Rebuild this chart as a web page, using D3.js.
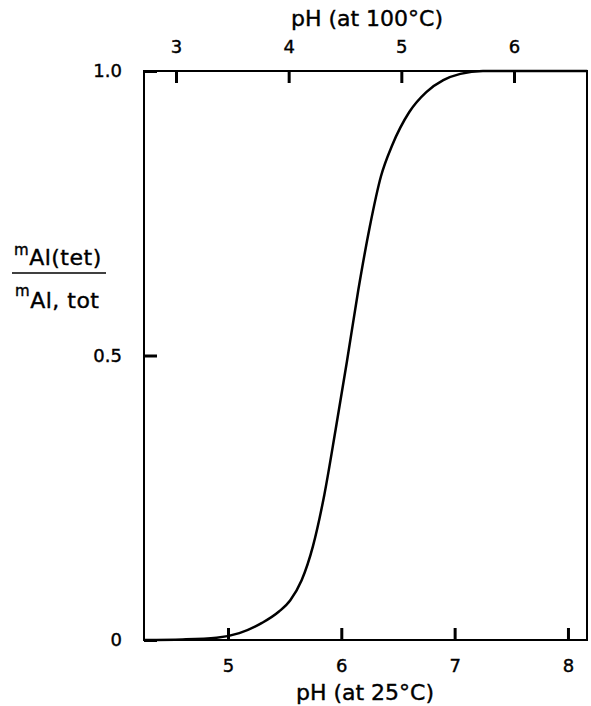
<html>
<head>
  <style>
  body {
    margin: 0;
    background: #fff;
    font-family: "DejaVu Sans", sans-serif;
  }
  text {
    stroke: #000;
    stroke-width: 0.4px;
  }
  .axis .domain {
    display: none;
  }
  .axis .tick line {
    stroke: #000;
    stroke-width: 3px;
  }
  .axis .tick text {
    font-size: 18px;
    font-family: "DejaVu Sans", sans-serif;
    fill: #000;
  }
  .title {
    font-size: 22px;
  }
  .ylab {
    font-size: 22px;
    letter-spacing: 0.5px;
  }
  .ylab-sup {
    font-size: 15px;
  }
  </style>
</head>
<body>
<div id="chart"></div>
<script src="https://d3js.org/d3.v7.min.js"></script>
<script>

// pH at 25 C along the curve, and the tetrahedral Al fraction
var ph25 = [4.26, 4.6, 4.9, 5.1, 5.3, 5.45, 5.55, 5.65, 5.75, 5.85, 5.95, 6.05, 6.15,
            6.25, 6.35, 6.45, 6.6, 6.75, 6.9, 7.05, 7.25, 8.17];
var fracTet = [0, 0.001, 0.004, 0.012, 0.03, 0.05, 0.07, 0.105, 0.165, 0.255, 0.37, 0.49, 0.615,
               0.725, 0.815, 0.87, 0.928, 0.963, 0.984, 0.995, 1.0, 1.0];

// tick labels
var ticks25 = [5, 6, 7, 8];
var ticks100 = [3, 4, 5, 6];
var yTicks = [0, 0.5, 1.0];

var margin = {top: 71, right: 4, bottom: 66, left: 144},
    width = 591 - margin.left - margin.right,
    height = 706 - margin.top - margin.bottom;

var svg = d3.select("#chart")
  .append("svg")
    .attr("width", 591)
    .attr("height", 706)
  .append("g")
    .attr("transform", "translate(" + margin.left + "," + margin.top + ")");

// bottom scale (25 C) and top scale (100 C) are offset from each other
var x = d3.scaleLinear().domain([4.259, 8.168]).range([0, width]);
var xTop = d3.scaleLinear().domain([2.716, 6.648]).range([0, width]);
var y = d3.scaleLinear().domain([0, 1]).range([height, 0]);

// frame
svg.append("rect")
  .attr("width", width)
  .attr("height", height)
  .attr("fill", "none")
  .attr("stroke", "#000")
  .attr("stroke-width", 2);

svg.append("g")
  .attr("class", "axis")
  .attr("transform", "translate(0," + height + ")")
  .call(d3.axisBottom(x).tickValues(ticks25).tickSizeInner(-12).tickSizeOuter(0).tickPadding(19)
    .tickFormat(d3.format("d")));

svg.append("g")
  .attr("class", "axis")
  .call(d3.axisTop(xTop).tickValues(ticks100).tickSizeInner(-12).tickSizeOuter(0).tickPadding(18)
    .tickFormat(d3.format("d")));

svg.append("g")
  .attr("class", "axis")
  .call(d3.axisLeft(y).tickValues(yTicks).tickSizeInner(-13).tickSizeOuter(0).tickPadding(22)
    .tickFormat(function(d) { return d === 0 ? "0" : d3.format(".1f")(d); }));

// curve
var pts = ph25.map(function(p, i) { return [p, fracTet[i]]; });
svg.append("path")
  .datum(pts)
  .attr("fill", "none")
  .attr("stroke", "#000")
  .attr("stroke-width", 2.5)
  .attr("d", d3.line()
    .x(function(d) { return x(d[0]); })
    .y(function(d) { return y(d[1]); })
    .curve(d3.curveMonotoneX));

// axis titles
svg.append("text")
  .attr("class", "title")
  .attr("x", 223)
  .attr("y", -45)
  .attr("text-anchor", "middle")
  .text("pH (at 100°C)");

svg.append("text")
  .attr("class", "title")
  .attr("x", 221)
  .attr("y", height + 60)
  .attr("text-anchor", "middle")
  .text("pH (at 25°C)");

// y label as a fraction
var ylab = svg.append("g").attr("transform", "translate(" + (-margin.left) + ",0)");

var num = ylab.append("text").attr("class", "ylab").attr("x", 14).attr("y", 194);
num.append("tspan").attr("class", "ylab-sup").attr("dy", -10).text("m");
num.append("tspan").attr("dy", 10).text("Al(tet)");

ylab.append("line")
  .attr("x1", 12).attr("x2", 106)
  .attr("y1", 202).attr("y2", 202)
  .attr("stroke", "#000")
  .attr("stroke-width", 1.5);

var den = ylab.append("text").attr("class", "ylab").attr("x", 15).attr("y", 237);
den.append("tspan").attr("class", "ylab-sup").attr("dy", -12).text("m");
den.append("tspan").attr("dy", 12).text("Al, tot");

</script>
</body>
</html>
